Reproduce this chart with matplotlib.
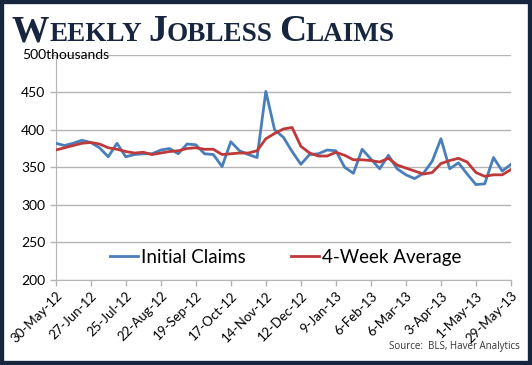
import numpy as np
import matplotlib
matplotlib.use("Agg")
import matplotlib.pyplot as plt
from matplotlib.patches import Rectangle
from matplotlib.transforms import blended_transform_factory

# weekly initial jobless claims, thousands (30-May-12 .. 29-May-13)
initial_claims = [382, 379, 382, 386, 383, 376, 364, 382, 364, 367,
                  368, 368, 373, 375, 368, 381, 380, 368, 367, 351,
                  384, 372, 367, 363, 451, 400, 390, 371, 354, 367,
                  368, 373, 372, 350, 342, 374, 361, 348, 366, 348,
                  340, 335, 342, 358, 388, 348, 356, 341, 327, 328,
                  363, 345, 354]
four_week_avg = [373, 376, 379, 382, 383, 381, 376, 374, 371, 369,
                 370, 367, 369, 371, 372, 375, 376, 374, 374, 367,
                 368, 369, 369, 372, 388, 395, 401, 403, 378, 369,
                 365, 365, 370, 366, 360, 360, 359, 357, 362, 353,
                 349, 345, 341, 343, 355, 359, 362, 357, 343, 338,
                 340, 340, 347]
tick_labels = ["30-May-12", "27-Jun-12", "25-Jul-12", "22-Aug-12", "19-Sep-12",
               "17-Oct-12", "14-Nov-12", "12-Dec-12", "9-Jan-13", "6-Feb-13",
               "6-Mar-13", "3-Apr-13", "1-May-13", "29-May-13"]
y_ticks = [200, 250, 300, 350, 400, 450, 500]

NAVY = "#17253f"
BLUE = "#4a7ebb"
RED = "#c0393a"
GRID = "#b4b4b4"
SANS = ["Lato", "DejaVu Sans"]

fig = plt.figure(figsize=(5.32, 3.65), dpi=100)
fig.patch.set_facecolor("white")
fig.patches.append(Rectangle((0, 0), 1, 1, transform=fig.transFigure, fill=False,
                             edgecolor=NAVY, linewidth=6, zorder=10))

ax = fig.add_axes([0.1047, 0.2329, 0.8558, 0.6175])
weeks = np.arange(len(initial_claims))
ax.plot(weeks, initial_claims, color=BLUE, lw=2.0, label="Initial Claims", zorder=3)
ax.plot(weeks, four_week_avg, color=RED, lw=2.0, label="4-Week Average", zorder=4)

ax.set_xlim(0, len(initial_claims) - 1)
ax.set_ylim(200, 500)
ax.set_yticks(y_ticks)
ax.set_yticklabels([str(v) if v != 500 else "" for v in y_ticks], fontsize=10, family=SANS)
ax.set_xticks(weeks[::4])
ax.set_xticklabels(tick_labels, rotation=45, ha="right", rotation_mode="anchor",
                   fontsize=9.5, family=SANS)
ax.grid(axis="y", color=GRID, lw=1)
ax.set_axisbelow(True)
for s in ("top", "right"):
    ax.spines[s].set_visible(False)
for s in ("left", "bottom"):
    ax.spines[s].set_color(GRID)
ax.tick_params(axis="both", colors=GRID, labelcolor="black", length=4, width=1)
ax.tick_params(axis="x", pad=3)

tr = blended_transform_factory(ax.transAxes, ax.transData)
ax.text(-0.074, 500, "500thousands", transform=tr, ha="left", va="center",
        fontsize=10, family=SANS)

ax.legend(loc="center", bbox_to_anchor=(0.505, 0.1), ncol=2, frameon=False,
          prop={"family": SANS, "size": 13.5}, handlelength=1.5, handletextpad=0.15,
          columnspacing=2.4)

# small-caps title drawn piece by piece
renderer = fig.canvas.get_renderer()
x = 12
for word in ["Weekly", "Jobless", "Claims"]:
    for part, size in ((word[0], 27), (word[1:].upper(), 19.5)):
        t = fig.text(x, 324, part, transform=None, fontsize=size, fontweight="bold",
                     family=["Liberation Serif", "DejaVu Serif"], color=NAVY, va="baseline")
        x = t.get_window_extent(renderer).x1
    x += 6

fig.text(0.978, 0.035, "Source:  BLS, Haver Analytics", ha="right", va="bottom",
         fontsize=7, family=["Open Sans", "DejaVu Sans"], color="#333333")

fig.savefig("out.png", dpi=100)
